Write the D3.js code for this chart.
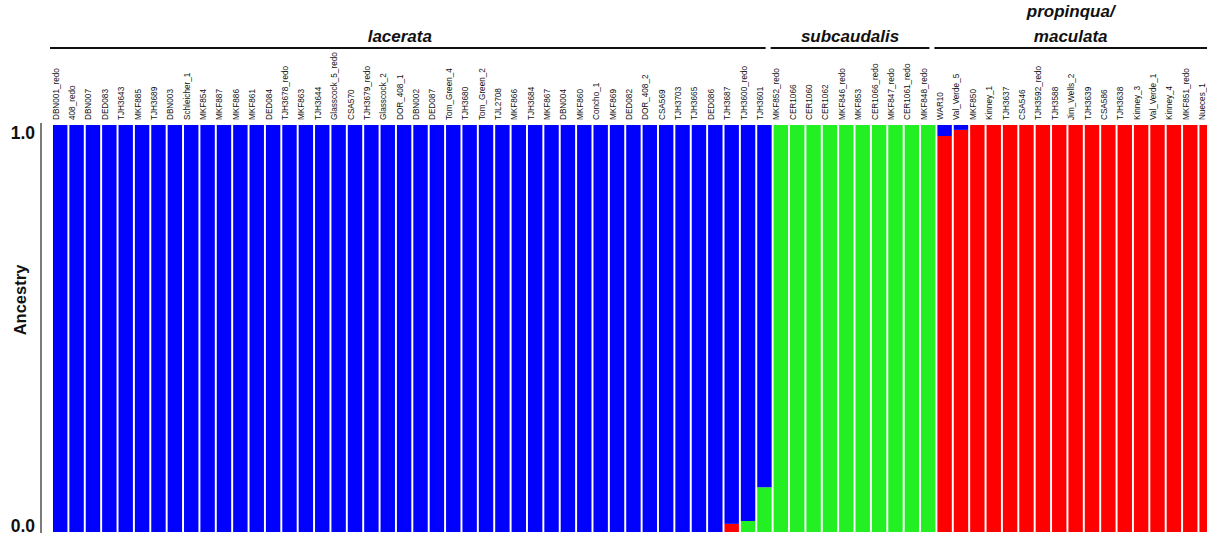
<!DOCTYPE html>
<html><head><meta charset="utf-8">
<script src="https://cdn.jsdelivr.net/npm/d3@7"></script>
<style>body{margin:0;background:#fff}svg{display:block}</style>
</head><body>
<svg id="c" width="1207" height="537"></svg>
<script>
const lacerataNames = ["DBN001_redo","408_redo","DBN007","DED083","TJH3643","MKF885","TJH3689","DBN003","Schleicher_1","MKF854","MKF887","MKF886","MKF861","DED084","TJH3678_redo","MKF863","TJH3644","Glasscock_5_redo","CSA570","TJH3679_redo","Glasscock_2","DOR_408_1","DBN002","DED087","Tom_Green_4","TJH3680","Tom_Green_2","TJL2708","MKF866","TJH3684","MKF867","DBN004","MKF860","Concho_1","MKF869","DED082","DOR_408_2","CSA569","TJH3703","TJH3665","DED086","TJH3687","TJH3600_redo","TJH3601"];
const subcaudalisNames = ["MKF852_redo","CER1066","CER1060","CER1062","MKF846_redo","MKF853","CER1066_redo","MKF847_redo","CER1061_redo","MKF848_redo"];
const propinquaNames = ["WAR10","Val_Verde_5","MKF850","Kinney_1","TJH3637","CSA546","TJH3592_redo","TJH3588","Jim_Wells_2","TJH3639","CSA586","TJH3638","Kinney_3","Val_Verde_1","Kinney_4","MKF851_redo","Nueces_1"];
const groupLabels = [["lacerata"],["subcaudalis"],["propinqua/","maculata"]];

// ancestry proportions per sample (lacerata 44, subcaudalis 10, propinqua/maculata 17)
const blueQ = [1,1,1,1,1,1,1,1,1,1,1,1,1,1,1,1,1,1,1,1,1,1,1,1,1,1,1,1,1,1,1,1,1,1,1,1,1,1,1,1,1,0.98,0.973,0.89,
  0,0,0,0,0,0,0,0,0,0,
  0.027,0.012,0,0,0,0,0,0,0,0,0,0,0,0,0,0,0];
const greenQ = [0,0,0,0,0,0,0,0,0,0,0,0,0,0,0,0,0,0,0,0,0,0,0,0,0,0,0,0,0,0,0,0,0,0,0,0,0,0,0,0,0,0,0.027,0.11,
  1,1,1,1,1,1,1,1,1,1,
  0,0,0,0,0,0,0,0,0,0,0,0,0,0,0,0,0];
const redQ = [0,0,0,0,0,0,0,0,0,0,0,0,0,0,0,0,0,0,0,0,0,0,0,0,0,0,0,0,0,0,0,0,0,0,0,0,0,0,0,0,0,0.02,0,0,
  0,0,0,0,0,0,0,0,0,0,
  0.973,0.988,1,1,1,1,1,1,1,1,1,1,1,1,1,1,1];
const yTicks = ["0.0","1.0"];

const groups = [lacerataNames, subcaudalisNames, propinquaNames];
const names = groups.flat();
const data = names.map((n,i)=>({name:n, red:redQ[i], green:greenQ[i], blue:blueQ[i]}));
const keys = ["red","green","blue"];
const colors = {red:"#ff0000", green:"#22f022", blue:"#0000ff"};

const svg = d3.select("#c");
const x0 = 53, step = 16.35;
const x = d3.scaleBand().domain(names).range([x0, x0 + step*names.length]).paddingInner(0.12).paddingOuter(0).align(0);
const y = d3.scaleLinear().domain([0,1]).range([532,125]);

const stack = d3.stack().keys(keys)(data);
svg.append("g").selectAll("g").data(stack).join("g")
  .attr("fill", d=>colors[d.key])
  .selectAll("rect").data(d=>d).join("rect")
  .attr("x", d=>x(d.data.name))
  .attr("width", x.bandwidth())
  .attr("y", d=>y(d[1]))
  .attr("height", d=>Math.max(0, y(d[0])-y(d[1])));

// sample labels
svg.append("g").selectAll("text").data(names).join("text")
  .attr("transform", d=>`translate(${x(d)+x.bandwidth()/2-1.5},120) rotate(-90)`)
  .attr("font-family","Liberation Sans, Arial, sans-serif")
  .attr("font-size",8.2)
  .attr("fill","#111")
  .text(d=>d);

// y axis
svg.append("line").attr("x1",41).attr("x2",41).attr("y1",y(1)-2).attr("y2",y(0)+1)
  .attr("stroke","#222").attr("stroke-width",1.2);
svg.append("g").selectAll("text").data(yTicks).join("text")
  .attr("x",35).attr("y",d=> d==="1.0" ? y(1)+14 : y(0))
  .attr("text-anchor","end")
  .attr("font-family","Liberation Sans, Arial, sans-serif")
  .attr("font-weight","bold").attr("font-size",17.5).attr("fill","#111")
  .text(d=>d);
svg.append("text").attr("transform",`translate(26,300) rotate(-90)`)
  .attr("text-anchor","middle")
  .attr("font-family","Liberation Sans, Arial, sans-serif")
  .attr("font-weight","bold").attr("font-size",16.5).attr("fill","#111")
  .text("Ancestry");

// group headers
let start = 0;
groups.forEach((g,gi)=>{
  const first = names[start], last = names[start+g.length-1];
  const xa = x(first) - 3;
  const xb = gi===groups.length-1 ? 1207 : x(last) + x.bandwidth() - 6;
  svg.append("line").attr("x1",xa).attr("x2",xb).attr("y1",48).attr("y2",48)
    .attr("stroke","#111").attr("stroke-width",2);
  const cx = gi===0 ? (xa+xb)/2 - 8 : (xa+xb)/2;
  const lines = groupLabels[gi];
  lines.forEach((t,li)=>{
    svg.append("text").attr("x",cx).attr("y",42 - (lines.length-1-li)*25)
      .attr("text-anchor","middle")
      .attr("font-family","Liberation Sans, Arial, sans-serif")
      .attr("font-weight","bold").attr("font-style","italic").attr("font-size",17)
      .attr("fill","#111").text(t);
  });
  start += g.length;
});
</script>
</body></html>
